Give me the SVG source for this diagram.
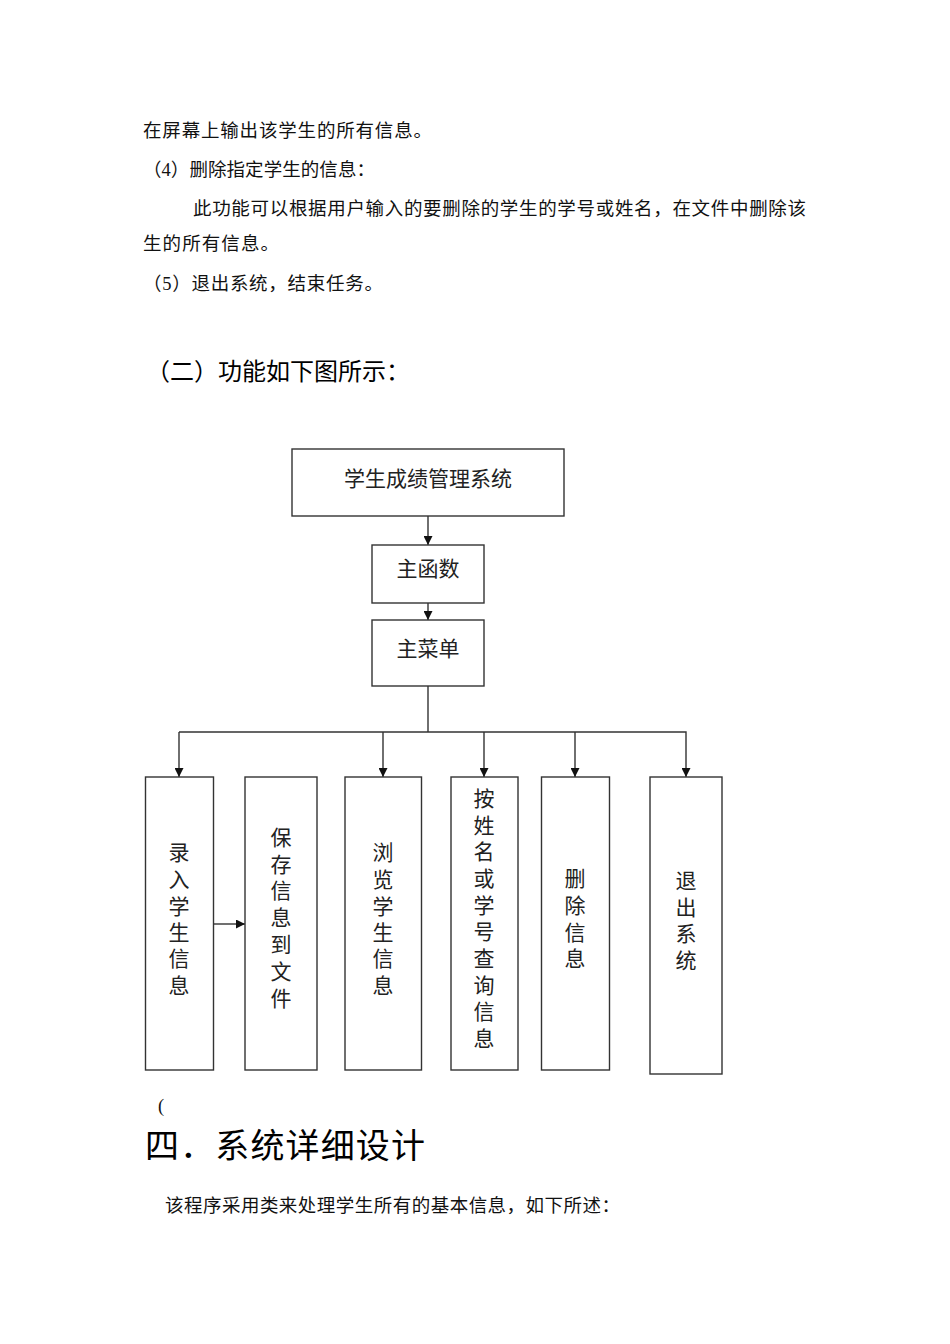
<svg xmlns="http://www.w3.org/2000/svg" width="950" height="1344" viewBox="0 0 950 1344">
<style>
.body{font-family:"Liberation Serif","Noto Sans CJK SC",serif;font-size:18.5px;fill:#111}
.h{font-family:"Liberation Sans","Noto Sans CJK SC",sans-serif;fill:#000}
.box{fill:#fff;stroke:#333;stroke-width:1.4}
.lbl{font-family:"Liberation Serif","Noto Sans CJK SC",serif;font-size:21px;fill:#222;text-anchor:middle}
.ln{fill:none;stroke:#333;stroke-width:1.4}
</style>
<defs>
<marker id="ah" viewBox="0 0 10 10" refX="10" refY="5" markerWidth="10" markerHeight="9" markerUnits="userSpaceOnUse" orient="auto">
<path d="M0,0 L10,5 L0,10 z" fill="#111"/>
</marker>
</defs>
<rect width="950" height="1344" fill="#fff"/>
<text class="body" x="143" y="137" textLength="289" lengthAdjust="spacing">在屏幕上输出该学生的所有信息。</text>
<text class="body" x="143" y="176" textLength="232" lengthAdjust="spacing">（4）删除指定学生的信息：</text>
<text class="body" x="193" y="215" textLength="613" lengthAdjust="spacing">此功能可以根据用户输入的要删除的学生的学号或姓名，在文件中删除该</text>
<text class="body" x="143" y="250" textLength="136" lengthAdjust="spacing">生的所有信息。</text>
<text class="body" x="143" y="290" textLength="240" lengthAdjust="spacing">（5）退出系统，结束任务。</text>
<text class="h" x="146" y="380" font-size="24" textLength="264" lengthAdjust="spacing">（二）功能如下图所示：</text>

<g id="connectors">
<line class="ln" x1="428" y1="516" x2="428" y2="545" marker-end="url(#ah)"/>
<line class="ln" x1="428" y1="603" x2="428" y2="620" marker-end="url(#ah)"/>
<polyline class="ln" points="428,686 428,732"/>
<polyline class="ln" points="179,732 686,732 686,777" marker-end="url(#ah)"/>
<line class="ln" x1="179" y1="732" x2="179" y2="777" marker-end="url(#ah)"/>
<line class="ln" x1="383" y1="732" x2="383" y2="777" marker-end="url(#ah)"/>
<line class="ln" x1="484" y1="732" x2="484" y2="777" marker-end="url(#ah)"/>
<line class="ln" x1="575" y1="732" x2="575" y2="777" marker-end="url(#ah)"/>
<line class="ln" x1="213" y1="924" x2="245" y2="924" marker-end="url(#ah)"/>
</g>

<g id="n-system">
<rect class="box" x="292" y="449" width="272" height="67"/>
<text class="lbl" x="428" y="486" font-size="22">学生成绩管理系统</text>
</g>
<g id="n-main">
<rect class="box" x="372" y="545" width="112" height="58"/>
<text class="lbl" x="428" y="576" font-size="22">主函数</text>
</g>
<g id="n-menu">
<rect class="box" x="372" y="620" width="112" height="66"/>
<text class="lbl" x="428" y="656" font-size="22">主菜单</text>
</g>

<g id="n-input">
<rect class="box" x="145.5" y="777" width="68" height="293"/>
<text class="lbl" x="179" y="860">录</text>
<text class="lbl" x="179" y="887">入</text>
<text class="lbl" x="179" y="914">学</text>
<text class="lbl" x="179" y="940">生</text>
<text class="lbl" x="179" y="966">信</text>
<text class="lbl" x="179" y="993">息</text>
</g>
<g id="n-save">
<rect class="box" x="245" y="777" width="72" height="293"/>
<text class="lbl" x="281" y="845">保</text>
<text class="lbl" x="281" y="872">存</text>
<text class="lbl" x="281" y="898">信</text>
<text class="lbl" x="281" y="925">息</text>
<text class="lbl" x="281" y="952">到</text>
<text class="lbl" x="281" y="979">文</text>
<text class="lbl" x="281" y="1006">件</text>
</g>
<g id="n-browse">
<rect class="box" x="345" y="777" width="76.5" height="293"/>
<text class="lbl" x="383" y="860">浏</text>
<text class="lbl" x="383" y="887">览</text>
<text class="lbl" x="383" y="914">学</text>
<text class="lbl" x="383" y="940">生</text>
<text class="lbl" x="383" y="966">信</text>
<text class="lbl" x="383" y="993">息</text>
</g>
<g id="n-query">
<rect class="box" x="451" y="777" width="67" height="293"/>
<text class="lbl" x="484" y="806">按</text>
<text class="lbl" x="484" y="833">姓</text>
<text class="lbl" x="484" y="859">名</text>
<text class="lbl" x="484" y="886">或</text>
<text class="lbl" x="484" y="913">学</text>
<text class="lbl" x="484" y="939">号</text>
<text class="lbl" x="484" y="966">查</text>
<text class="lbl" x="484" y="993">询</text>
<text class="lbl" x="484" y="1019">信</text>
<text class="lbl" x="484" y="1046">息</text>
</g>
<g id="n-delete">
<rect class="box" x="541.5" y="777" width="68" height="293"/>
<text class="lbl" x="575" y="886">删</text>
<text class="lbl" x="575" y="913">除</text>
<text class="lbl" x="575" y="940">信</text>
<text class="lbl" x="575" y="966">息</text>
</g>
<g id="n-exit">
<rect class="box" x="650" y="777" width="72" height="297"/>
<text class="lbl" x="686" y="888">退</text>
<text class="lbl" x="686" y="915">出</text>
<text class="lbl" x="686" y="941">系</text>
<text class="lbl" x="686" y="968">统</text>
</g>

<text class="body" x="158" y="1112" font-size="18">(</text>
<text class="h" x="145" y="1158" font-size="34" textLength="280" lengthAdjust="spacing">四．系统详细设计</text>
<text class="body" x="165" y="1212" textLength="455" lengthAdjust="spacing">该程序采用类来处理学生所有的基本信息，如下所述：</text>
</svg>
